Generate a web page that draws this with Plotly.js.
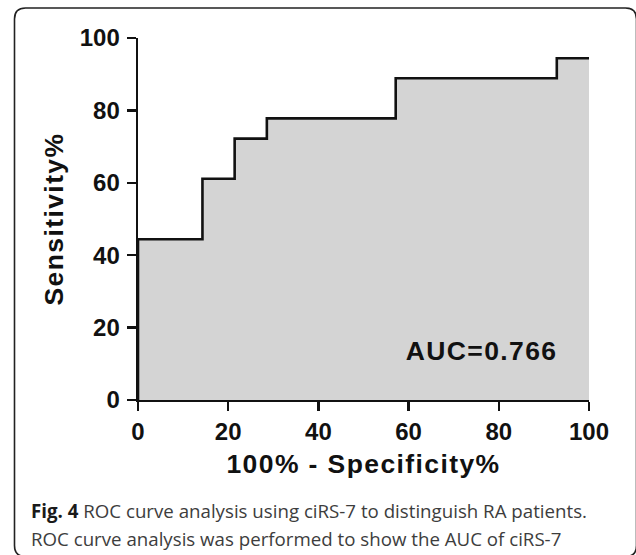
<!DOCTYPE html>
<html>
<head>
<meta charset="utf-8">
<script src="https://cdn.plot.ly/plotly-3.0.1.min.js"></script>
<style>
  html, body { margin: 0; padding: 0; background: #fff; }
  #chart { width: 636px; height: 555px; }
  .xtitle, .ytitle { letter-spacing: 1.4px; }
  g.annotation[data-index="0"] text { letter-spacing: 1.4px; }
</style>
</head>
<body>
<div id="chart"></div>
<script>
// ROC curve data (100% - Specificity%, Sensitivity%)
const fpr = [0, 0, 14.29, 21.43, 28.57, 57.14, 92.86, 100];
const sensitivity = [0, 44.4, 61.1, 72.2, 77.8, 88.9, 94.4, 94.4];
const tickValues = [0, 20, 40, 60, 80, 100];
const tickLabels = ["0", "20", "40", "60", "80", "100"];
const xTitle = "100% - Specificity%";
const yTitle = "Sensitivity%";
const aucLabel = "AUC=0.766";
const captionLine1 = "<span style=\"color:#1a1a1a\"><b>Fig. 4</b></span> ROC curve analysis using ciRS-7 to distinguish RA patients.";
const captionLine2 = "ROC curve analysis was performed to show the AUC of ciRS-7";

// layout geometry helpers (pixel -> paper)
const M = { l: 138, r: 47, t: 38, b: 155 };
const W = 636, H = 555;
const pw = W - M.l - M.r, ph = H - M.t - M.b;
const px = v => (v - M.l) / pw;
const py = v => (H - M.b - v) / ph;

function roundedBox(L, T, R, B, r) {
  const p = (x, y) => px(x) + ',' + py(y);
  return 'M' + p(L + r, T) + ' L' + p(R - r, T) + ' Q' + p(R, T) + ' ' + p(R, T + r) +
    ' L' + p(R, B - r) + ' Q' + p(R, B) + ' ' + p(R - r, B) +
    ' L' + p(L + r, B) + ' Q' + p(L, B) + ' ' + p(L, B - r) +
    ' L' + p(L, T + r) + ' Q' + p(L, T) + ' ' + p(L + r, T) + ' Z';
}

const boldFont = { family: 'Arial, Liberation Sans, sans-serif', weight: 700, color: '#111' };

const trace = {
  x: fpr, y: sensitivity,
  type: 'scatter', mode: 'lines',
  line: { shape: 'hv', color: '#111', width: 2.6 },
  fill: 'tozeroy', fillcolor: '#d4d4d4',
  cliponaxis: false, hoverinfo: 'skip', showlegend: false
};

const axisCommon = {
  range: [0, 100], tickvals: tickValues, ticktext: tickLabels,
  showgrid: false, zeroline: false, showline: true, linecolor: '#111', linewidth: 2.4,
  ticks: 'outside', ticklen: 9, tickwidth: 2.4, tickcolor: '#111',
  tickfont: Object.assign({ size: 24 }, boldFont), fixedrange: true
};

const layout = {
  width: W, height: H,
  margin: M,
  paper_bgcolor: '#fff', plot_bgcolor: 'rgba(0,0,0,0)',
  showlegend: false,
  xaxis: Object.assign({}, axisCommon, {
    ticklabelstandoff: 0,
    title: { text: xTitle, font: Object.assign({ size: 26.5 }, boldFont), standoff: 10 }
  }),
  yaxis: Object.assign({}, axisCommon, {
    ticklabelstandoff: 2,
    title: { text: yTitle, font: Object.assign({ size: 26.5 }, boldFont), standoff: 9 }
  }),
  annotations: [
    { text: aucLabel, xref: 'x', yref: 'y', x: 76.2, y: 13.5, xanchor: 'center', yanchor: 'middle',
      showarrow: false, font: Object.assign({ size: 26.5 }, boldFont) },
    { text: captionLine1, xref: 'paper', yref: 'paper', x: px(29), y: py(510), xanchor: 'left', yanchor: 'middle',
      showarrow: false, align: 'left', font: { family: 'Open Sans, sans-serif', size: 18.7, color: '#3d3d3d' } },
    { text: captionLine2, xref: 'paper', yref: 'paper', x: px(29), y: py(538), xanchor: 'left', yanchor: 'middle',
      showarrow: false, align: 'left', font: { family: 'Open Sans, sans-serif', size: 18.7, color: '#3d3d3d' } }
  ],
  shapes: [
    { type: 'path', xref: 'paper', yref: 'paper', path: roundedBox(14.5, 8, 636.5, 556.5, 11),
      line: { color: '#222', width: 1.6 }, fillcolor: 'rgba(0,0,0,0)', layer: 'above' }
  ]
};

Plotly.newPlot('chart', [trace], layout, { displayModeBar: false, staticPlot: true });
</script>
</body>
</html>
